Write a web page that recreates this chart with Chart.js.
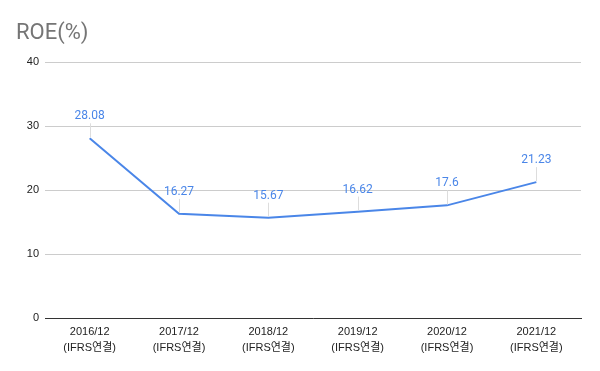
<!DOCTYPE html>
<html>
<head>
<meta charset="utf-8">
<script src="https://cdn.jsdelivr.net/npm/chart.js@4/dist/chart.umd.min.js"></script>
<style>
  html, body { margin: 0; padding: 0; background: #fff; }
  #wrap { width: 600px; height: 371px; }
</style>
</head>
<body>
<div id="wrap"><canvas id="roeChart"></canvas></div>
<script>
// ----------------------
// Datos
// ----------------------
const periodos = ['2016/12', '2017/12', '2018/12', '2019/12', '2020/12', '2021/12'];
const base = '(IFRS연결)';
const roe = [28.08, 16.27, 15.67, 16.62, 17.6, 21.23];
const yTicks = [0, 10, 20, 30, 40];

const AZUL = '#4a86e8';
const axisFont = { family: "'Liberation Sans', 'Noto Sans CJK KR', sans-serif", size: 11 };

// titulo dibujado a mano en posicion fija
const tituloPlugin = {
  id: 'titulo',
  afterDraw(chart) {
    const ctx = chart.ctx;
    ctx.save();
    ctx.font = "22px Roboto, 'Noto Sans', sans-serif";
    ctx.fillStyle = '#757575';
    ctx.textBaseline = 'middle';
    ctx.textAlign = 'left';
    ctx.fillText('ROE(%)', 16, 33);
    ctx.restore();
  }
};

// etiquetas de valor con linea guia
const etiquetasPlugin = {
  id: 'etiquetas',
  afterDatasetsDraw(chart) {
    const ctx = chart.ctx;
    const meta = chart.getDatasetMeta(0);
    ctx.save();
    meta.data.forEach((pt, i) => {
      const x = pt.x, y = pt.y;
      ctx.strokeStyle = '#dddddd';
      ctx.lineWidth = 1;
      ctx.beginPath();
      ctx.moveTo(Math.round(x) + 0.5, y - 1);
      ctx.lineTo(Math.round(x) + 0.5, y - 15);
      ctx.stroke();
      ctx.font = "12px Roboto, 'Noto Sans', sans-serif";
      ctx.fillStyle = AZUL;
      ctx.textAlign = 'center';
      ctx.textBaseline = 'middle';
      ctx.fillText(String(roe[i]), x, y - 22);
    });
    ctx.restore();
  }
};

new Chart(document.getElementById('roeChart'), {
  type: 'line',
  data: {
    labels: periodos.map(p => [p, base]),
    datasets: [{
      data: roe,
      borderColor: AZUL,
      borderWidth: 2,
      pointRadius: 0,
      tension: 0,
      fill: false
    }]
  },
  options: {
    responsive: true,
    maintainAspectRatio: false,
    animation: false,
    layout: { padding: { top: 62, left: 17, right: 19, bottom: 0 } },
    plugins: {
      legend: { display: false },
      tooltip: { enabled: false }
    },
    scales: {
      x: {
        offset: true,
        grid: { display: false, drawTicks: false },
        border: { display: true, color: '#333333', width: 1 },
        ticks: {
          color: '#222222',
          font: { ...axisFont, lineHeight: 1.45 },
          padding: 6,
          maxRotation: 0,
          autoSkip: false
        },
        afterFit(scale) { scale.height = 53; }
      },
      y: {
        min: 0,
        max: 40,
        afterBuildTicks(scale) { scale.ticks = yTicks.map(v => ({ value: v })); },
        grid: { color: '#cccccc', drawTicks: false },
        border: { display: false },
        ticks: {
          color: '#222222',
          font: axisFont,
          padding: 6
        },
        afterFit(scale) { scale.width = 28; }
      }
    }
  },
  plugins: [tituloPlugin, etiquetasPlugin]
});
</script>
</body>
</html>
